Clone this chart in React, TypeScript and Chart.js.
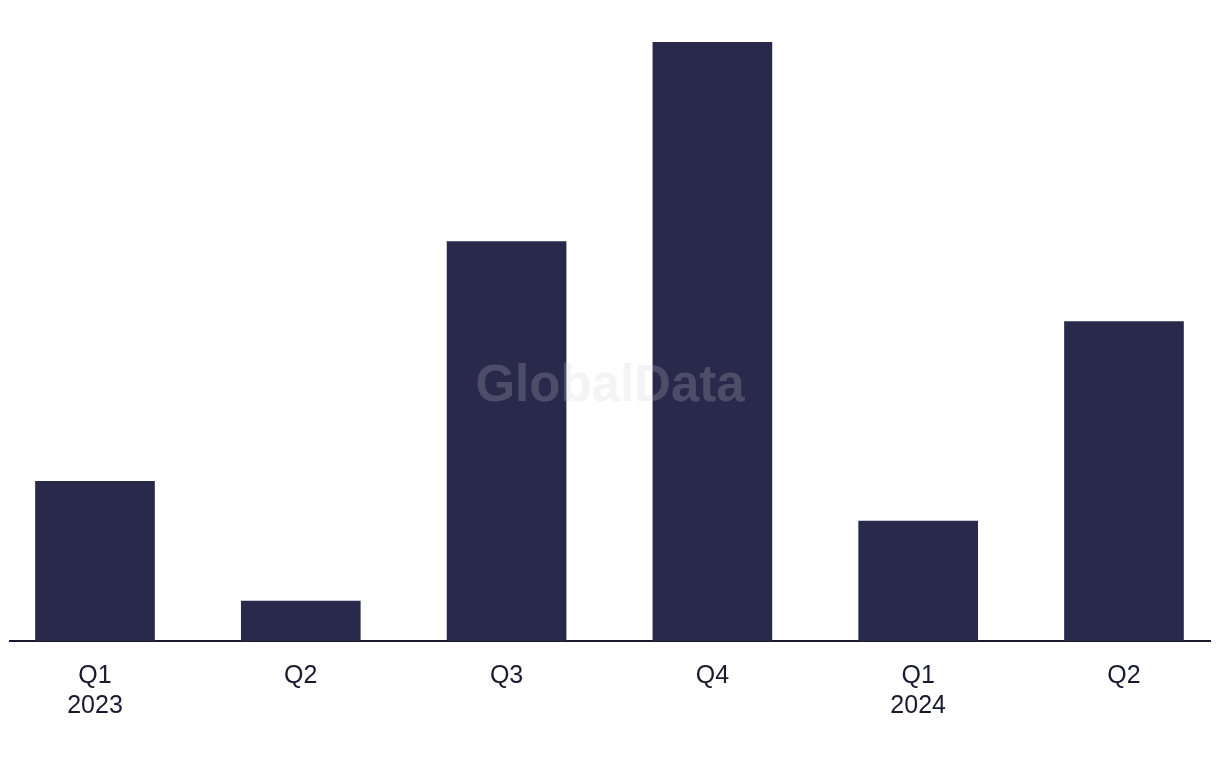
import React, { useEffect, useRef } from "react";
import { Chart, registerables } from "chart.js";

Chart.register(...registerables);

const quarterLabels = ["Q1", "Q2", "Q3", "Q4", "Q1", "Q2"];
const yearLabels = ["2023", "", "", "", "2024", ""];
const dealValues = [4, 1, 10, 15, 3, 8];

const BAR_COLOR = "#29294b";
const TEXT_COLOR = "#1a1a2e";

const watermarkPlugin = {
  id: "watermark",
  afterDatasetsDraw(chart: any) {
    const { ctx } = chart;
    ctx.save();
    ctx.font = "bold 51px 'Liberation Sans', Arial, sans-serif";
    ctx.fillStyle = "rgba(205,205,215,0.22)";
    ctx.textAlign = "center";
    ctx.textBaseline = "alphabetic";
    ctx.fillText("GlobalData", 610, 401);
    ctx.restore();
  },
};

export default function App() {
  const ref = useRef<HTMLCanvasElement | null>(null);
  useEffect(() => {
    document.body.style.margin = "0";
    const data = dealValues.map((v, i) => ({ x: i, y: v }));
    const chart = new Chart(ref.current as HTMLCanvasElement, {
      type: "bar",
      data: {
        datasets: [
          {
            data: data as any,
            backgroundColor: BAR_COLOR,
            barThickness: 119,
          },
        ],
      },
      options: {
        animation: false,
        responsive: false,
        maintainAspectRatio: false,
        layout: { padding: { top: 42, left: 10, right: 10, bottom: 0 } },
        plugins: { legend: { display: false }, tooltip: { enabled: false } },
        scales: {
          x: {
            type: "linear",
            offset: false,
            min: -0.413,
            max: 5.418,
            afterBuildTicks: (axis: any) => {
              axis.ticks = quarterLabels.map((_, i) => ({ value: i }));
            },
            afterFit: (scale: any) => {
              scale.height = 127;
            },
            grid: { display: false, drawTicks: false, offset: false },
            border: { display: true, color: TEXT_COLOR, width: 2 },
            ticks: {
              padding: 20,
              autoSkip: false,
              maxRotation: 0,
              color: TEXT_COLOR,
              font: { family: "'Liberation Sans', Arial, sans-serif", size: 25, lineHeight: 1.2 },
              callback: (v: any) => {
                const i = Math.round(Number(v));
                return yearLabels[i] ? [quarterLabels[i], yearLabels[i]] : quarterLabels[i];
              },
            },
          },
          y: {
            display: false,
            min: 0,
            max: 15,
          },
        },
      },
      plugins: [watermarkPlugin],
    });
    return () => chart.destroy();
  }, []);
  return (
    <div style={{ position: "absolute", left: 0, top: 0, width: 1220, height: 768, background: "#fff" }}>
      <canvas ref={ref} width={1220} height={768} />
    </div>
  );
}
